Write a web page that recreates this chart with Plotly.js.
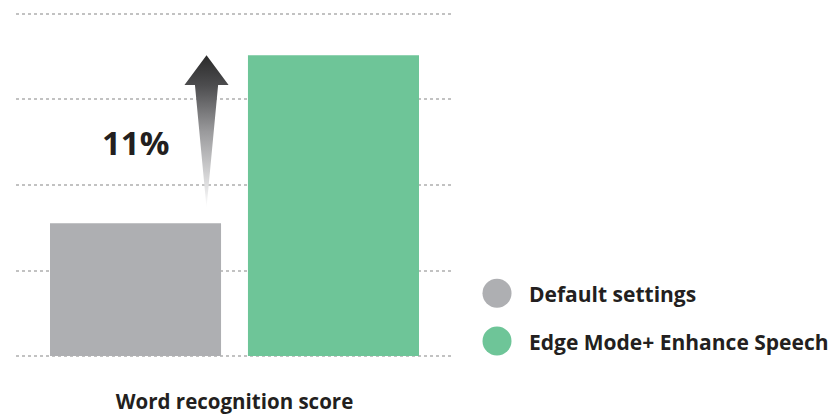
<!DOCTYPE html>
<html>
<head>
<meta charset="utf-8">
<script src="https://cdn.plot.ly/plotly-3.0.1.min.js"></script>
<style>
  html, body { margin: 0; padding: 0; background: #ffffff; }
  #chart { width: 840px; height: 415px; }
</style>
</head>
<body>
<div id="chart"></div>
<script>
// Word recognition score, two listening settings
const seriesNames = ["Default settings", "Edge Mode+ Enhance Speech"];
const seriesColors = ["#aeafb2", "#6ec598"];
const category = "Word recognition score";
const scores = [48.7, 59.7];
const gainLabel = "11%";

// value axis: baseline and dotted grid step (no tick labels shown)
const axisFloor = 40;
const gridStep = 5.6;
const gridCount = 4;
const axisPad = 0.39;

const textColor = "#231f20";
const fontFamily = "'Open Sans', Lato, sans-serif";

// bar grouping geometry on a numeric x axis (one group centred on 0)
const bargap = 0.094;
const bargroupgap = 0.136;
const slot = (1 - bargap) / 2;
const barCenters = [-slot / 2, slot / 2];

const bars = scores.map((v, i) => ({
  type: "bar",
  name: seriesNames[i],
  x: [0],
  y: [v - axisFloor],
  base: axisFloor,
  marker: { color: seriesColors[i], line: { width: 0 } },
  hovertemplate: seriesNames[i] + ": %{y}<extra></extra>",
  showlegend: false
}));

// tapered arrow rising from the default score to the enhanced score
const arrowX = -0.064;
const headHalf = 0.0505;
const shaftHalf = 0.0265;
const headLen = 1.96;
const tailGap = 0.99;
const tipY = scores[1];
const headBaseY = tipY - headLen;
const tailY = scores[0] + tailGap;
const arrow = {
  type: "scatter",
  mode: "none",
  x: [arrowX, arrowX + headHalf, arrowX + shaftHalf, arrowX, arrowX - shaftHalf, arrowX - headHalf, arrowX],
  y: [tipY, headBaseY, headBaseY, tailY, headBaseY, headBaseY, tipY],
  fill: "toself",
  fillgradient: {
    type: "vertical",
    colorscale: [
      [0, "#ffffff"],
      [0.12, "#e6e6e7"],
      [0.5, "#9a9a9c"],
      [0.8, "#4d4d4f"],
      [1, "#2a2a2a"]
    ]
  },
  hoverinfo: "skip",
  showlegend: false
};

// legend drawn as round swatches with labels to the right of the plot
const legendX = 1.1007;
const legendTextX = 1.169;
const legendY = [0.194, 0.0593];
const legendShapes = seriesNames.map((n, i) => ({
  type: "circle",
  xref: "paper", yref: "paper",
  xsizemode: "pixel", ysizemode: "pixel",
  xanchor: legendX, yanchor: legendY[i],
  x0: -14.5, x1: 14.5, y0: -14.5, y1: 14.5,
  fillcolor: seriesColors[i],
  line: { width: 0 }
}));
const legendLabels = seriesNames.map((n, i) => ({
  xref: "paper", yref: "paper",
  x: legendTextX, y: legendY[i],
  xanchor: "left", yanchor: "middle",
  yshift: -1,
  text: "<b>" + n + "</b>",
  showarrow: false,
  font: { family: fontFamily, size: 21, color: textColor }
}));

const gainNote = {
  xref: "x", yref: "y",
  x: barCenters[0], y: (scores[0] + scores[1]) / 2,
  xanchor: "center", yanchor: "middle",
  yshift: -3,
  text: "<b>" + gainLabel + "</b>",
  showarrow: false,
  font: { family: fontFamily, size: 33, color: textColor }
};

const layout = {
  width: 840,
  height: 415,
  margin: { l: 16, r: 387, t: 8, b: 53 },
  paper_bgcolor: "#ffffff",
  plot_bgcolor: "#ffffff",
  font: { family: fontFamily, color: textColor },
  barmode: "group",
  bargap: bargap,
  bargroupgap: bargroupgap,
  showlegend: false,
  xaxis: {
    range: [-0.5, 0.5],
    showgrid: false,
    zeroline: false,
    showline: false,
    showticklabels: false,
    ticks: "",
    fixedrange: true,
    title: {
      text: "<b>" + category + "</b>",
      font: { family: fontFamily, size: 20.5, color: textColor },
      standoff: 37
    }
  },
  yaxis: {
    range: [axisFloor - axisPad, axisFloor + gridCount * gridStep + axisPad],
    tick0: axisFloor,
    dtick: gridStep,
    showgrid: true,
    gridcolor: "#c2c2c2",
    gridwidth: 2,
    griddash: "3px,3px",
    zeroline: false,
    showline: false,
    showticklabels: false,
    ticks: "",
    fixedrange: true
  },
  shapes: legendShapes,
  annotations: [gainNote].concat(legendLabels)
};

Plotly.newPlot("chart", bars.concat([arrow]), layout, { displayModeBar: false, staticPlot: true });
</script>
</body>
</html>
